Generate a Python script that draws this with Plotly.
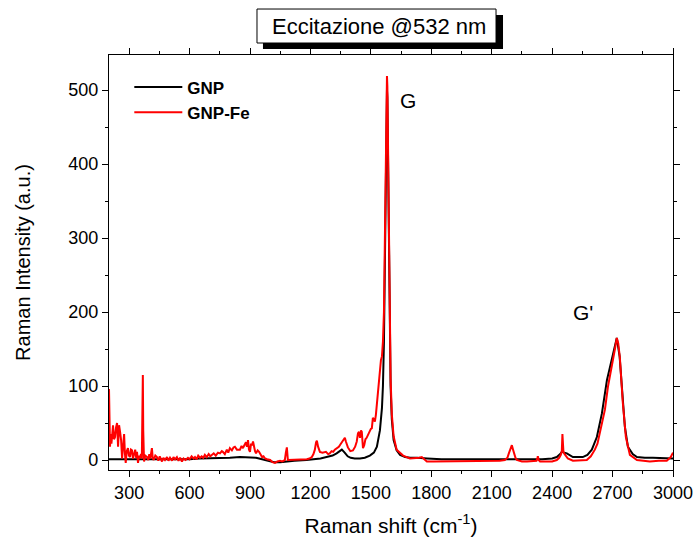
import plotly.graph_objects as go

# Raman spectra: (shift cm^-1, intensity a.u.)
gnp_points = [
    (200, 1), (250, 1), (300, 0), (350, 1), (400, 0), (450, 1), (500, 0), (550, 1),
    (600, 1), (650, 2), (700, 2), (750, 3), (800, 3), (850, 4), (900, 4), (930, 3),
    (960, 1), (1000, -1), (1020, -3), (1050, -3), (1080, -2), (1120, -1), (1180, 0),
    (1220, 1), (1250, 2), (1280, 4), (1310, 6), (1330, 9), (1345, 12), (1356, 14),
    (1370, 10), (1385, 5), (1400, 3), (1420, 2), (1446, 2), (1470, 3), (1495, 6),
    (1515, 10), (1530, 18), (1545, 40), (1555, 70), (1560, 100), (1565, 160),
    (1570, 300), (1574, 430), (1577, 490), (1580, 500), (1582, 490), (1585, 425),
    (1589, 310), (1593, 190), (1598, 100), (1604, 55), (1613, 27), (1628, 13),
    (1645, 7), (1670, 4), (1695, 3), (1730, 3), (1750, 3), (1780, 2), (1850, 1),
    (1950, 1), (2050, 0), (2150, 0), (2250, 0), (2350, 1), (2400, 2), (2423, 4),
    (2440, 8), (2448, 11), (2460, 10), (2473, 9), (2503, 4), (2530, 4), (2552, 4),
    (2575, 7), (2597, 14), (2622, 31), (2647, 63), (2672, 108), (2697, 137),
    (2710, 152), (2721, 165), (2735, 140), (2746, 99), (2761, 45), (2776, 18),
    (2800, 8), (2821, 4), (2860, 3), (2900, 3), (2950, 2), (3000, 2),
]

gnp_fe_points = [
    (200, 96), (202, 40), (205, 18), (208, 35), (212, 22), (215, 31), (220, 47),
    (225, 28), (230, 31), (235, 44), (240, 50), (245, 18), (250, 47), (255, 38),
    (260, 27), (265, 2), (270, 20), (275, 35), (279, 9), (283, -4), (288, 12),
    (294, 16), (299, 6), (304, 4), (309, 14), (314, 13), (319, 2), (324, 7),
    (330, 14), (335, 3), (339, 11), (344, -4), (349, 6), (354, 3), (359, 8),
    (363, 2), (366, 60), (368, 115), (370, 40), (374, -2), (380, 6), (389, 4),
    (395, 0), (400, 8), (405, 2), (410, 10), (413, 16), (417, 3), (422, 0),
    (430, 6), (438, 4), (445, -1), (452, 5), (463, -2), (470, 3), (478, 0),
    (488, 4), (495, -1), (503, 3), (513, -1), (520, 4), (528, 1), (537, 4),
    (545, -1), (553, 3), (562, -2), (570, 2), (580, 0), (592, 3), (600, 1),
    (610, 5), (620, 2), (627, 4), (635, 1), (643, 6), (652, 3), (660, 5),
    (668, 3), (676, 7), (685, 4), (695, 8), (703, 5), (711, 7), (720, 9),
    (730, 6), (741, 10), (751, 9), (760, 12), (765, 11), (775, 8), (785, 14),
    (792, 10), (800, 16), (810, 13), (818, 17), (825, 18), (835, 14), (850, 14),
    (858, 19), (865, 16), (872, 20), (880, 24), (885, 18), (890, 27), (895, 14),
    (900, 11), (905, 22), (910, 20), (915, 25), (920, 15), (925, 12), (930, 9),
    (938, 13), (945, 11), (952, 7), (960, 4), (967, 5), (975, 2), (985, 1),
    (1000, 0), (1012, -3), (1024, -4), (1036, -2), (1049, -1), (1060, -2),
    (1073, 0), (1078, 10), (1083, 17), (1088, 0), (1100, 0), (1115, 1), (1133, 0),
    (1150, 1), (1165, 0), (1182, 1), (1195, 2), (1207, 4), (1215, 8), (1222, 14),
    (1228, 24), (1232, 26), (1238, 18), (1247, 11), (1260, 10), (1277, 11),
    (1288, 8), (1296, 9), (1305, 12), (1313, 11), (1321, 14), (1331, 16),
    (1341, 18), (1351, 22), (1360, 26), (1366, 28), (1371, 30), (1376, 25),
    (1386, 17), (1398, 12), (1411, 13), (1422, 18), (1430, 25), (1436, 36),
    (1441, 38), (1446, 30), (1451, 40), (1455, 38), (1461, 16), (1467, 20),
    (1473, 28), (1479, 30), (1485, 34), (1490, 36), (1495, 38), (1500, 42),
    (1505, 43), (1510, 57), (1515, 55), (1520, 52), (1525, 61), (1530, 75),
    (1535, 95), (1540, 105), (1545, 125), (1550, 135), (1555, 140), (1560, 160),
    (1565, 200), (1570, 330), (1574, 450), (1577, 505), (1580, 519), (1582, 505),
    (1585, 440), (1589, 320), (1593, 200), (1598, 110), (1604, 62), (1613, 32),
    (1628, 14), (1660, 6), (1694, 2), (1720, 2), (1740, 3), (1753, 4), (1765, 1),
    (1778, -2), (1810, -2), (1857, -2), (1900, -1), (1942, -1), (1985, -2),
    (2026, -1), (2070, -1), (2106, -2), (2140, -1), (2165, 0), (2178, 3),
    (2185, 9), (2193, 15), (2200, 20), (2206, 14), (2210, 9), (2218, 3),
    (2225, 0), (2250, -2), (2275, -2), (2300, -2), (2322, -1), (2327, 3),
    (2329, 5), (2333, 0), (2340, -2), (2370, -2), (2400, -2), (2423, 0),
    (2435, 3), (2443, 7), (2448, 12), (2451, 35), (2453, 20), (2456, 11),
    (2462, 8), (2478, 2), (2503, -1), (2540, -1), (2572, 0), (2592, 5),
    (2612, 14), (2625, 22), (2637, 36), (2650, 50), (2662, 68), (2677, 99),
    (2697, 126), (2711, 149), (2721, 165), (2728, 158), (2736, 139), (2751, 77),
    (2766, 31), (2786, 7), (2821, 0), (2850, -1), (2885, -2), (2930, -1),
    (2969, -1), (2989, 4), (3000, 10),
]

x_ticks = [300, 600, 900, 1200, 1500, 1800, 2100, 2400, 2700, 3000]
y_ticks = [0, 100, 200, 300, 400, 500]
series_names = ["GNP", "GNP-Fe"]
series_colors = ["#000000", "#ff0000"]
title_text = "Eccitazione @532 nm"
peak_labels = [("G", 1684, 486), ("G'", 2552, 199)]

FONT = "Liberation Sans, Arial, sans-serif"
TICK_FONT = "Liberation Sans Narrow, Arial Narrow, Liberation Sans, sans-serif"

fig = go.Figure()
for name, color, pts in zip(series_names, series_colors, [gnp_points, gnp_fe_points]):
    xs, ys = zip(*pts)
    fig.add_trace(go.Scatter(
        x=list(xs), y=list(ys), mode="lines", name=name,
        line=dict(color=color, width=2),
    ))

axis_common = dict(
    showline=True, linecolor="black", linewidth=1.3, mirror="ticks",
    ticks="outside", ticklen=6, tickwidth=1.3, tickcolor="black",
    showgrid=False, zeroline=False, automargin=False,
    tickfont=dict(family=TICK_FONT, size=18, color="black"),
)

fig.update_xaxes(
    range=[200, 3000], tickvals=x_ticks,
    minor=dict(ticks="outside", ticklen=3, tickwidth=1.2, tickcolor="black", dtick=150, tick0=150),
    title=dict(text="Raman shift (cm<sup>-1</sup>)", font=dict(family=FONT, size=21, color="black"), standoff=16),
    **axis_common,
)
fig.update_yaxes(
    range=[-13.5, 547.3], tickvals=y_ticks,
    minor=dict(ticks="outside", ticklen=3, tickwidth=1.2, tickcolor="black", dtick=50, tick0=0),
    title=dict(text="Raman Intensity (a.u.)", font=dict(family=FONT, size=20, color="black"), standoff=32),
    **axis_common,
)

annotations = []
for label, lx, ly in peak_labels:
    annotations.append(dict(
        x=lx, y=ly, xref="x", yref="y", text=label, showarrow=False,
        font=dict(family=FONT, size=21, color="black"),
    ))
annotations.append(dict(
    x=0.4787, y=1.0675, xref="paper", yref="paper", xanchor="center", yanchor="middle",
    text=title_text, showarrow=False,
    font=dict(family=FONT, size=22, color="black"),
))

shapes = [
    dict(type="rect", xref="paper", yref="paper", x0=0.273, x1=0.6986, y0=1.0145, y1=1.0964,
         fillcolor="black", line=dict(width=0)),
    dict(type="rect", xref="paper", yref="paper", x0=0.2624, x1=0.6862, y0=1.0289, y1=1.1108,
         fillcolor="white", line=dict(color="black", width=1)),
]

fig.update_layout(
    width=697, height=542,
    margin=dict(l=109, r=24, t=55, b=72),
    paper_bgcolor="white", plot_bgcolor="white",
    showlegend=True,
    legend=dict(
        x=0.036, y=0.965, xanchor="left", yanchor="top",
        font=dict(family=FONT, size=17, color="black", weight="bold"),
        bgcolor="rgba(0,0,0,0)", tracegroupgap=0, itemwidth=48,
    ),
    annotations=annotations,
    shapes=shapes,
)

fig.write_html("out.html")
